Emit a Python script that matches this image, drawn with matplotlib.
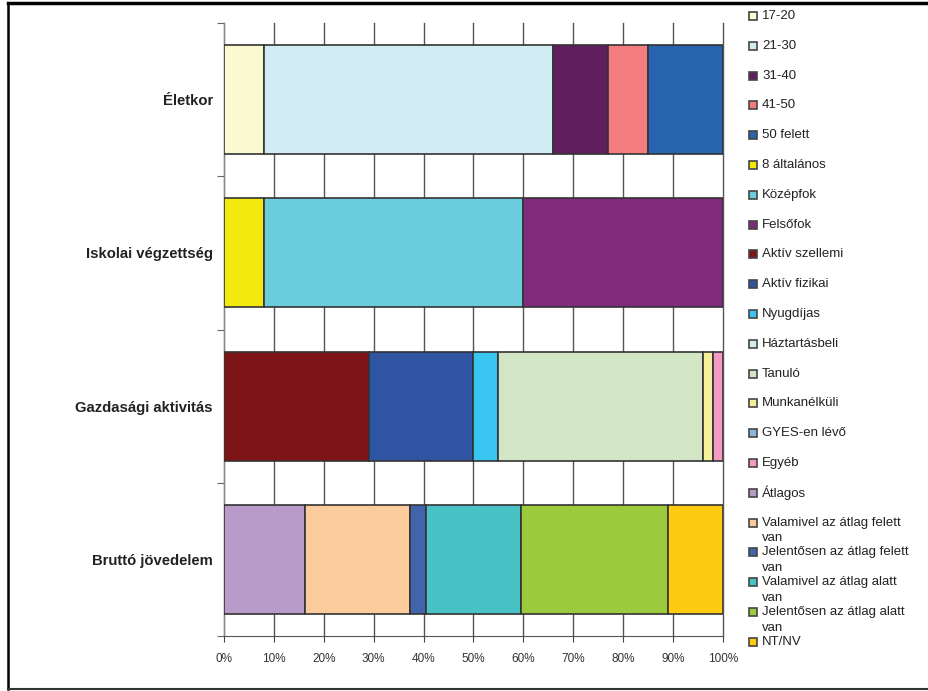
import matplotlib
matplotlib.use('Agg')
import matplotlib.pyplot as plt
from matplotlib.patches import Rectangle
from matplotlib.lines import Line2D
import numpy as np

plt.rcParams['font.family'] = ['Liberation Sans', 'DejaVu Sans']

# Kategóriák (fentről lefelé)
groups = ['Életkor', 'Iskolai végzettség', 'Gazdasági aktivitás', 'Bruttó jövedelem']

# Szegmensek csoportonként (%)
eletkor_labels = ['17-20', '21-30', '31-40', '41-50', '50 felett']
eletkor_values = [8, 58, 11, 8, 15]
eletkor_colors = ['#FBF9D0', '#D1ECF2', '#611E5F', '#F27C7E', '#2763AE']

iskola_labels = ['8 általános', 'Középfok', 'Felsőfok']
iskola_values = [8, 52, 40]
iskola_colors = ['#F2EA0E', '#6BCCDB', '#7F2A7D']

gazd_labels = ['Aktív szellemi', 'Aktív fizikai', 'Nyugdíjas', 'Háztartásbeli',
               'Tanuló', 'Munkanélküli', 'GYES-en lévő', 'Egyéb']
gazd_values = [29, 21, 5, 0, 41, 2, 0, 2]
gazd_colors = ['#7D1417', '#2F54A2', '#38C6F1', '#D2EDF4',
               '#D2E6C6', '#F6F09A', '#8DB6DE', '#F49AC4']

jov_labels = ['Átlagos', 'Valamivel az átlag felett\nvan', 'Jelentősen az átlag felett\nvan',
              'Valamivel az átlag alatt\nvan', 'Jelentősen az átlag alatt\nvan', 'NT/NV']
jov_values = [16.2, 21.1, 3.1, 19.2, 29.3, 11.1]
jov_colors = ['#B89BC8', '#FBCB9B', '#4264AC', '#49C2C5', '#9BCA3C', '#FDCB10']

all_values = [eletkor_values, iskola_values, gazd_values, jov_values]
all_colors = [eletkor_colors, iskola_colors, gazd_colors, jov_colors]
all_labels = eletkor_labels + iskola_labels + gazd_labels + jov_labels
legend_colors = eletkor_colors + iskola_colors + gazd_colors + jov_colors

W, H = 929, 691
fig = plt.figure(figsize=(W / 100, H / 100), dpi=100)
ax = fig.add_axes([224 / W, 1 - 636 / H, (723 - 224) / W, (636 - 23) / H])

# Halmozott sávok
for i, (vals, cols) in enumerate(zip(all_values, all_colors)):
    left = 0
    for v, c in zip(vals, cols):
        if v > 0:
            ax.barh(i, v, left=left, height=0.71, color=c,
                    edgecolor='#333333', linewidth=1.2, zorder=3)
        left += v

ax.set_xlim(0, 100)
ax.set_ylim(3.5, -0.5)

# Tengelyek
ax.set_xticks(np.arange(0, 101, 10))
ax.set_xticklabels([f'{t}%' for t in range(0, 101, 10)], fontsize=8.5, color='#333333')
ax.tick_params(axis='x', direction='out', length=4, color='#444444', pad=8)
ax.grid(axis='x', color='#555555', linewidth=1, zorder=0)
for gl in ax.get_xgridlines():
    gl.set_clip_on(False)
ax.set_axisbelow(True)

ax.set_yticks(np.arange(-0.5, 4, 1))
ax.set_yticklabels([])
ax.set_yticks(np.arange(4), minor=True)
ax.set_yticklabels(groups, minor=True, fontsize=10.7, fontweight='bold', color='#222222')
ax.tick_params(axis='y', which='major', direction='out', length=5, color='#666666')
ax.tick_params(axis='y', which='minor', length=0, pad=8)

for s in ['top', 'right']:
    ax.spines[s].set_visible(False)
ax.spines['left'].set_color('#888888')
ax.spines['bottom'].set_color('#555555')

# Jelmagyarázat
for k, (lab, col) in enumerate(zip(all_labels, legend_colors)):
    yc = 16 + 29.8 * k
    fig.add_artist(Rectangle((749 / W, 1 - (yc + 4) / H), 8 / W, 8 / H,
                             transform=fig.transFigure, facecolor=col,
                             edgecolor='#444444', linewidth=1.2))
    if '\n' in lab:
        fig.text(762 / W, 1 - (yc - 6) / H, lab, fontsize=9.5, va='top',
                 ha='left', color='#222222', linespacing=1.4)
    else:
        fig.text(762 / W, 1 - yc / H, lab, fontsize=9.5, va='center',
                 ha='left', color='#222222')

# Keret
fig.add_artist(Line2D([8 / W, 1], [1 - 3 / H, 1 - 3 / H], transform=fig.transFigure,
                      color='black', linewidth=2.5))
fig.add_artist(Line2D([8 / W, 8 / W], [1 - 3 / H, 1 - 689 / H], transform=fig.transFigure,
                      color='black', linewidth=1.8))
fig.add_artist(Line2D([8 / W, 1], [1 - 689 / H, 1 - 689 / H], transform=fig.transFigure,
                      color='#333333', linewidth=1.5))

fig.savefig('out.png', dpi=100)
